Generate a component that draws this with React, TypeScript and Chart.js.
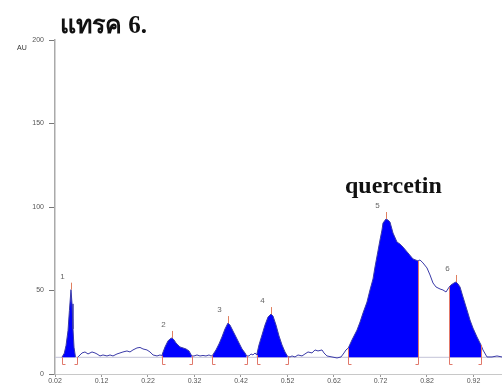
import React, { useEffect, useRef } from "react";
import { Chart, registerables } from "chart.js";

Chart.register(...registerables);

// Densitogram trace: Rf positions and absorbance (AU)
const traceRf: number[] = [
  0.035, 0.040, 0.0437, 0.048, 0.051, 0.0544, 0.0566, 0.0587, 0.0609, 0.064, 0.0665,
  0.0695, 0.0781, 0.0845, 0.091, 0.0996, 0.106, 0.1103, 0.1168, 0.1232, 0.1318, 0.1383,
  0.1447, 0.1533, 0.1598, 0.1662, 0.1748, 0.1813, 0.1877, 0.1963, 0.2028, 0.2092, 0.2178,
  0.2243, 0.2308, 0.2394, 0.2458,
  0.2496, 0.2566, 0.263, 0.2673, 0.2716, 0.2759, 0.2802, 0.2845, 0.2888, 0.2953, 0.3017, 0.3082, 0.3141,
  0.3189, 0.3254, 0.3318, 0.3383, 0.3447, 0.3512, 0.3555,
  0.3583, 0.3662, 0.3727, 0.3791, 0.3856, 0.392, 0.3963, 0.4028, 0.4092, 0.4157, 0.4222, 0.4286, 0.4322,
  0.4372, 0.4415, 0.4458, 0.4501,
  0.4537, 0.4587, 0.4652, 0.4716, 0.4781, 0.4845, 0.4888, 0.4953, 0.5017, 0.5082, 0.5146, 0.5204,
  0.5254, 0.5297, 0.5361, 0.5426, 0.5512, 0.5576, 0.5641, 0.5727, 0.5791, 0.5856, 0.5942, 0.5985,
  0.6049, 0.6157, 0.6265, 0.6351, 0.6415, 0.6458,
  0.6508, 0.6587, 0.6695, 0.676, 0.6824, 0.691, 0.6974, 0.7039, 0.7082, 0.7146, 0.7189, 0.7232,
  0.7254, 0.7318, 0.7361, 0.7404, 0.7469, 0.7555, 0.7619, 0.7684, 0.7791, 0.7899, 0.8006,
  0.805, 0.8114, 0.82, 0.8265, 0.8329, 0.8394, 0.848, 0.8544, 0.8609,
  0.8675, 0.8716, 0.8781, 0.8824, 0.8867, 0.891, 0.8974, 0.906, 0.9125, 0.9189, 0.9275, 0.9361,
  0.9404, 0.949, 0.9598, 0.9705, 0.9813,
];

const traceAU: (number | null)[] = [
  10, 12.5, 17, 26, 38, 50.5, 42, 27, 16, 10.2, null,
  10.2, 12.6, 13.2, 12, 13.2, 12.6, 12, 10.8, 11.4, 10.8, 11.4,
  10.8, 12, 12.6, 13.2, 13.8, 13.2, 14.4, 15.6, 15.9, 15, 14.4,
  13.2, 11.4, 10.8, 11.4,
  11, 16.2, 19.8, 21, 21.6, 20.4, 18.6, 17.4, 16.2, 15.6, 15, 13.8, 10.8,
  10.8, 11.4, 10.8, 11.1, 10.8, 11.4, 10.8,
  11, 14.4, 18, 22.2, 27, 30.5, 29.3, 25.7, 22.2, 18.6, 15, 12.6, 10.8,
  10.8, 12, 11.4, 12.6,
  11.4, 17.4, 23.4, 29.3, 34.1, 35.9, 34.7, 29.3, 22.8, 17.4, 13.2, 10.5,
  10.2, 10.8, 10.2, 11.4, 10.8, 12, 13.2, 12.6, 14.4, 13.8, 14.4, 12.6,
  10.8, 10.2, 9.6, 10.2, 12.6, 14.4,
  15.6, 20.4, 26.3, 31.1, 36.5, 43.1, 50.3, 56.9, 64.1, 73.7, 80.2, 86.2,
  90.4, 92.8, 92.2, 91, 84.4, 79, 77.8, 76, 72.5, 68.9, 67.7,
  68.3, 66.5, 63.5, 59.3, 54.5, 52.1, 50.9, 50.3, 49.1,
  52, 53.3, 54.5, 55.1, 53.9, 52.1, 46.1, 38.3, 32.3, 27.5, 22.2, 17.4,
  14.4, 10.2, 10.2, 10.8, 10.2,
];

// Integrated peaks
const peakLabels: string[] = ["1", "2", "3", "4", "5", "6"];
const peakStart: number[] = [0.035, 0.2496, 0.3583, 0.4537, 0.6508, 0.8675];
const peakEnd: number[] = [0.0665, 0.3141, 0.4322, 0.5204, 0.8006, 0.9361];
const baselineAU = 10;

// Axes
const xTicks: number[] = [0.02, 0.12, 0.22, 0.32, 0.42, 0.52, 0.62, 0.72, 0.82, 0.92];
const yTicks: number[] = [0, 50, 100, 150, 200];
const xMin = 0.02;
const xMax = 0.9813;

const titleText = "แทรค 6.";
const compoundText = "quercetin";
const yUnit = "AU";

const points = traceRf.map((x, i) => ({ x, y: traceAU[i] }));

function valueAt(rf: number): number {
  let best = 0;
  let bd = Infinity;
  traceRf.forEach((x, i) => {
    const v = traceAU[i];
    if (v === null) return;
    const d = Math.abs(x - rf);
    if (d < bd) {
      bd = d;
      best = v;
    }
  });
  return best;
}

const annotPlugin = {
  id: "annot",
  afterDatasetsDraw(chart: any) {
    const { ctx, scales } = chart;
    const x = scales.x;
    const y = scales.y;
    ctx.save();
    const yb = Math.round(y.getPixelForValue(baselineAU)) + 0.5;
    ctx.lineWidth = 1;
    peakStart.forEach((s, i) => {
      const e = peakEnd[i];
      const xs = Math.round(x.getPixelForValue(s)) + 0.5;
      const xe = Math.round(x.getPixelForValue(e)) + 0.5;
      const ys = Math.min(yb, y.getPixelForValue(valueAt(s)));
      const ye = Math.min(yb, y.getPixelForValue(valueAt(e)));
      ctx.strokeStyle = "#e0786a";
      ctx.beginPath();
      ctx.moveTo(xs + 3, yb + 7);
      ctx.lineTo(xs, yb + 7);
      ctx.lineTo(xs, ys);
      ctx.moveTo(xe - 3, yb + 7);
      ctx.lineTo(xe, yb + 7);
      ctx.lineTo(xe, ye);
      ctx.stroke();
      // apex
      let ax = s;
      let av = -Infinity;
      traceRf.forEach((r, k) => {
        const v = traceAU[k];
        if (v !== null && r >= s && r <= e && v > av) {
          av = v;
          ax = r;
        }
      });
      const px = Math.round(x.getPixelForValue(ax)) + 0.5;
      const py = y.getPixelForValue(av);
      ctx.strokeStyle = "#e08060";
      ctx.beginPath();
      ctx.moveTo(px, py);
      ctx.lineTo(px, py - 7);
      ctx.stroke();
      ctx.fillStyle = "#666";
      ctx.font = '8px "Liberation Sans", Arial, sans-serif';
      ctx.textAlign = "center";
      ctx.textBaseline = "middle";
      ctx.fillText(peakLabels[i], px - 9, py - 13);
    });
    // texts
    ctx.fillStyle = "#333";
    ctx.font = '7px "Liberation Sans", Arial, sans-serif';
    ctx.textAlign = "left";
    ctx.textBaseline = "middle";
    ctx.fillText(yUnit, 17, 48);
    ctx.fillStyle = "#111";
    ctx.textBaseline = "alphabetic";
    ctx.font = 'bold 25px "Liberation Serif", "Noto Sans", serif';
    ctx.fillText(titleText, 60, 33);
    ctx.font = 'bold 24px "Liberation Serif", serif';
    ctx.fillText(compoundText, 345, 193);
    ctx.restore();
  },
};

export default function App() {
  const ref = useRef<HTMLCanvasElement | null>(null);
  useEffect(() => {
    if (!ref.current) return;
    const fills = peakStart.map((s, i) => ({
      data: points.filter((p) => p.y !== null && p.x >= s - 1e-9 && p.x <= peakEnd[i] + 1e-9),
      borderWidth: 0,
      borderColor: "rgba(0,0,0,0)",
      backgroundColor: "#0000ff",
      pointRadius: 0,
      fill: { value: baselineAU },
      tension: 0,
      order: 2,
    }));
    const chart = new Chart(ref.current, {
      type: "line",
      data: {
        datasets: [
          {
            data: points,
            borderColor: "#3a3aa8",
            borderWidth: 1,
            pointRadius: 0,
            fill: false,
            tension: 0,
            spanGaps: false,
            order: 1,
          },
          ...fills,
          {
            data: [
              { x: xMin, y: baselineAU },
              { x: xMax, y: baselineAU },
            ],
            borderColor: "#c4c4d8",
            borderWidth: 1,
            pointRadius: 0,
            fill: false,
            order: 3,
          },
        ] as any,
      },
      options: {
        responsive: false,
        animation: false,
        events: [],
        layout: { padding: { top: 40, right: 0, left: 0, bottom: 0 } },
        plugins: { legend: { display: false }, tooltip: { enabled: false }, title: { display: false } },
        scales: {
          x: {
            type: "linear",
            min: xMin,
            max: xMax,
            afterBuildTicks: (s: any) => {
              s.ticks = xTicks.map((v) => ({ value: v }));
            },
            afterFit: (s: any) => {
              s.height = 13;
            },
            ticks: {
              autoSkip: false,
              maxRotation: 0,
              padding: 0,
              color: "#555",
              font: { size: 7, family: '"Liberation Sans", Arial, sans-serif' },
              callback: (v: any) => Number(v).toFixed(2),
            },
            grid: { drawOnChartArea: false, drawTicks: true, tickLength: 3, color: "#999" },
            border: { display: true, color: "#c8c8c8", width: 1 },
          },
          y: {
            min: 0,
            max: 200,
            afterBuildTicks: (s: any) => {
              s.ticks = yTicks.map((v) => ({ value: v }));
            },
            afterFit: (s: any) => {
              s.width = 55;
            },
            ticks: {
              padding: 5,
              color: "#555",
              font: { size: 7, family: '"Liberation Sans", Arial, sans-serif' },
              callback: (v: any) => String(v),
            },
            grid: { drawOnChartArea: false, drawTicks: true, tickLength: 6, color: "#777" },
            border: { display: true, color: "#aaa", width: 1.5 },
          },
        },
      },
      plugins: [annotPlugin],
    });
    return () => chart.destroy();
  }, []);
  return (
    <div style={{ position: "fixed", left: 0, top: 0, width: 502, height: 387, background: "#fff" }}>
      <canvas ref={ref} width={502} height={387} style={{ display: "block", width: 502, height: 387 }} />
    </div>
  );
}
